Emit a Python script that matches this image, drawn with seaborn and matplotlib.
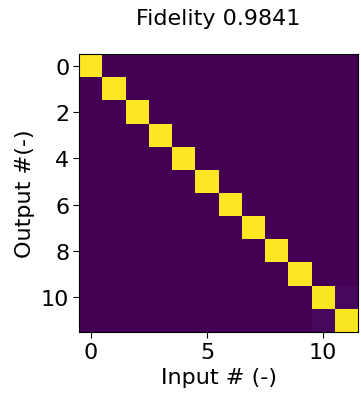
import numpy as np
import pandas as pd
import matplotlib
matplotlib.use("Agg")
import matplotlib.pyplot as plt
import seaborn as sns

# Data: 12x12 transfer matrix (output rows x input columns)
n_modes = 12
diag_values = [1.0, 1.0, 1.0, 1.0, 1.0, 1.0, 1.0, 1.0, 1.0, 1.0, 0.99, 0.99]
offdiag_pairs = [(10, 11), (11, 10)]
offdiag_values = [0.022, 0.022]
title_text = "Fidelity 0.9841"
x_ticks = [0, 5, 10]
y_ticks = [0, 2, 4, 6, 8, 10]

mat = np.zeros((n_modes, n_modes))
for i, v in enumerate(diag_values):
    mat[i, i] = v
for (r, c), v in zip(offdiag_pairs, offdiag_values):
    mat[r, c] = v
df = pd.DataFrame(mat)

sns.set_style("white")
plt.rcParams.update({"text.color": "black", "axes.labelcolor": "black",
                     "xtick.color": "black", "ytick.color": "black"})
fig = plt.figure(figsize=(3.61, 4.02), dpi=100)
ax = fig.add_axes([0.219, 0.172, 0.773, 0.691])
sns.heatmap(df, ax=ax, cmap="viridis", vmin=0, vmax=1, cbar=False,
            square=False, xticklabels=False, yticklabels=False)

ax.set_xticks([t + 0.5 for t in x_ticks])
ax.set_xticklabels([str(t) for t in x_ticks], fontsize=16)
ax.set_yticks([t + 0.5 for t in y_ticks])
ax.set_yticklabels([str(t) for t in y_ticks], fontsize=16, rotation=0)
ax.tick_params(axis="both", which="both", length=4, width=0.8, colors="black",
               bottom=True, left=True, pad=3)
for s in ax.spines.values():
    s.set_visible(True)
    s.set_color("black")
    s.set_linewidth(0.8)

ax.set_xlabel("Input # (-)", fontsize=16, color="black")
ax.set_ylabel("Output #(-)", fontsize=16, color="black")
ax.set_title(title_text, fontsize=16, pad=22, color="black")

fig.savefig("out.png", dpi=100)
